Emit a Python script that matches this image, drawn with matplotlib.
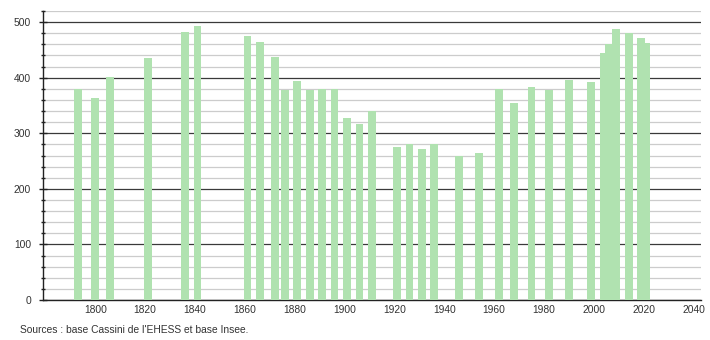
import matplotlib
matplotlib.use("Agg")
import matplotlib.pyplot as plt
from matplotlib.ticker import MultipleLocator

plt.rcParams['font.family'] = ['Liberation Sans', 'DejaVu Sans']

years = [1793, 1800, 1806, 1821, 1836, 1841, 1861, 1866, 1872, 1876, 1881, 1886,
         1891, 1896, 1901, 1906, 1911, 1921, 1926, 1931, 1936, 1946, 1954, 1962,
         1968, 1975, 1982, 1990, 1999, 2004, 2006, 2009, 2014, 2019, 2021]
population = [379, 364, 401, 436, 483, 493, 475, 465, 438, 377, 394, 377,
              379, 379, 328, 317, 340, 276, 280, 272, 280, 260, 265, 379,
              355, 384, 377, 396, 393, 444, 460, 487, 480, 471, 462]
x_ticks = list(range(1800, 2041, 20))
y_ticks = list(range(0, 501, 100))
source_text = "Sources : base Cassini de l'EHESS et base Insee."

fig = plt.figure(figsize=(7.1, 3.4), dpi=100)
ax = fig.add_axes([43/710, 1 - 300/340, (701-43)/710, (300-11)/340])

ax.bar(years, population, width=3.1, color='#b0e2b0', zorder=3, linewidth=0)

ax.set_xlim(1779, 2043)
ax.set_ylim(0, 520)
ax.set_xticks(x_ticks)
ax.set_yticks(y_ticks)
ax.yaxis.set_minor_locator(MultipleLocator(20))

ax.grid(True, axis='y', which='minor', color='#cccccc', linewidth=0.9, zorder=0)
ax.grid(True, axis='y', which='major', color='#3a3a3a', linewidth=0.9, zorder=1)
ax.set_axisbelow(True)

for s in ['top', 'right']:
    ax.spines[s].set_visible(False)
ax.spines['left'].set_color('#222222')
ax.spines['bottom'].set_color('#222222')
ax.spines['left'].set_linewidth(1.0)
ax.spines['bottom'].set_linewidth(1.0)

ax.tick_params(axis='x', length=0, pad=3.5, labelsize=7.4, labelcolor='#333333')
ax.tick_params(axis='y', which='major', direction='inout', length=6, width=1,
               pad=5.5, labelsize=7.4, labelcolor='#333333', color='#222222')
ax.tick_params(axis='y', which='minor', direction='inout', length=3, width=1,
               color='#222222')

fig.text(20/710, 1 - 330/340, source_text, fontsize=7.4, color='#333333',
         ha='left', va='center')

fig.savefig('out.png', dpi=100)
